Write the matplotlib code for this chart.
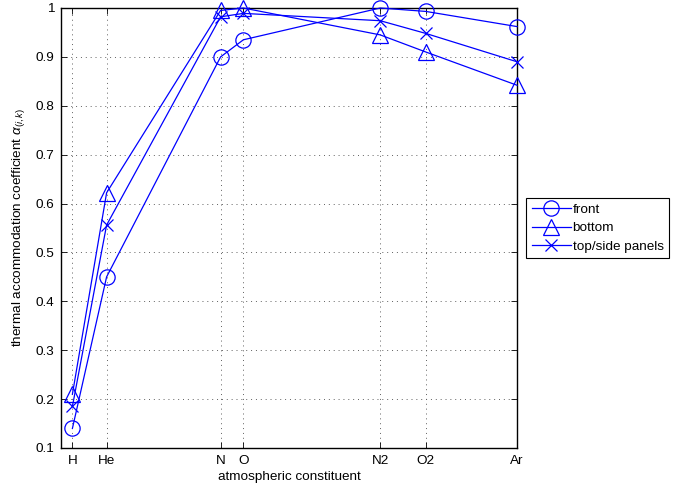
import matplotlib
matplotlib.use("Agg")
import matplotlib.pyplot as plt
from matplotlib.ticker import FormatStrFormatter

plt.rcParams['font.family'] = ['Liberation Sans', 'DejaVu Sans']
plt.rcParams['mathtext.fontset'] = 'custom'
plt.rcParams['mathtext.rm'] = 'Liberation Sans'
plt.rcParams['mathtext.it'] = 'Liberation Sans:italic'

species = ['H', 'He', 'N', 'O', 'N2', 'O2', 'Ar']
mass = [1, 4, 14, 16, 28, 32, 40]
front = [0.14, 0.45, 0.90, 0.935, 1.0, 0.993, 0.962]
bottom = [0.21, 0.622, 0.995, 1.0, 0.945, 0.91, 0.842]
top_side = [0.185, 0.556, 0.982, 0.989, 0.974, 0.948, 0.89]
yticks = [0.1, 0.2, 0.3, 0.4, 0.5, 0.6, 0.7, 0.8, 0.9, 1.0]

fs = 9.7
fig = plt.figure(figsize=(6.74, 4.88), dpi=100)
ax = fig.add_axes([61/674, 40/488, 456/674, 440/488])

c = (0, 0, 1)
kw = dict(color=c, mfc='none', lw=0.9, mew=0.9, clip_on=False, zorder=3)
ax.plot(mass, front, '-o', ms=11, label='front', **kw)
ax.plot(mass, bottom, '-^', ms=12, label='bottom', **kw)
ax.plot(mass, top_side, '-x', ms=9, label='top/side panels', **kw)

ax.set_xlim(0, 40)
ax.set_ylim(0.1, 1.0)
ax.set_xticks(mass)
ax.set_xticklabels(species)
ax.set_yticks(yticks)
ax.yaxis.set_major_formatter(FormatStrFormatter('%g'))
ax.tick_params(direction='in', length=4, width=0.6, labelsize=fs, top=True, right=True, pad=5)
ax.grid(True, linestyle=(0, (1, 4)), color='#606060', lw=0.7)
for s in ax.spines.values():
    s.set_linewidth(1.0)

ax.set_xlabel('atmospheric constituent', fontsize=fs, labelpad=3)
ax.set_ylabel(r'thermal accommodation coefficient $\alpha_{(i,k)}$', fontsize=fs, labelpad=6)

leg = ax.legend(loc='upper left', bbox_to_anchor=(1.02, 0.568), fontsize=fs,
                fancybox=False, edgecolor='black', framealpha=1,
                handlelength=2.9, handletextpad=0.15, borderpad=0.4,
                labelspacing=0.45, borderaxespad=0)
leg.get_frame().set_linewidth(0.8)

fig.savefig('out.png', dpi=100)
